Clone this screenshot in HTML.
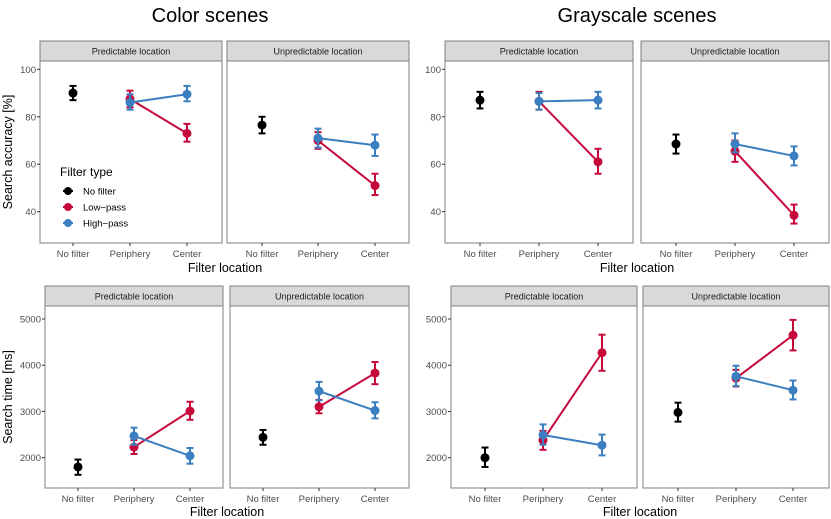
<!DOCTYPE html>
<html><head><meta charset="utf-8">
<style>
body{margin:0;background:#fff;width:831px;height:519px;overflow:hidden}
svg{display:block;font-family:"Liberation Sans",Arial,sans-serif}
</style></head>
<body>
<svg id="chart" width="831" height="519" viewBox="0 0 831 519">
<text x="210" y="22" font-size="20" text-anchor="middle" fill="#000">Color scenes</text>
<text x="637" y="22" font-size="20" text-anchor="middle" fill="#000">Grayscale scenes</text>
<text transform="translate(12,152) rotate(-90)" font-size="12.5" text-anchor="middle">Search accuracy [%]</text>
<text transform="translate(12,397) rotate(-90)" font-size="12.5" text-anchor="middle">Search time [ms]</text>
<text x="225" y="272" font-size="12.5" text-anchor="middle">Filter location</text>
<text x="637" y="272" font-size="12.5" text-anchor="middle">Filter location</text>
<text x="227" y="516" font-size="12.5" text-anchor="middle">Filter location</text>
<text x="640" y="516" font-size="12.5" text-anchor="middle">Filter location</text>
<g id="panels"></g>
<g>
<text x="60" y="176" font-size="12">Filter type</text>
<g><line x1="63" y1="191" x2="73" y2="191" stroke="#000" stroke-width="2"/><circle cx="68" cy="191" r="4" fill="#000"/><text x="83" y="194.5" font-size="9.5">No filter</text></g>
<g><line x1="63" y1="207" x2="73" y2="207" stroke="#c6093b" stroke-width="2"/><circle cx="68" cy="207" r="4" fill="#c6093b"/><text x="83" y="210.5" font-size="9.5">Low−pass</text></g>
<g><line x1="63" y1="223" x2="73" y2="223" stroke="#3b7fc0" stroke-width="2"/><circle cx="68" cy="223" r="4" fill="#3b7fc0"/><text x="83" y="226.5" font-size="9.5">High−pass</text></g>
</g>
</svg>
<script>
const categories = ["No filter","Periphery","Center"];
const accTicks = [40,60,80,100];
const timeTicks = [2000,3000,4000,5000];
// [mean, low, high]; noFilter single; lowPass/highPass at Periphery, Center
const colorAccPredNF = [90,87,93];
const colorAccPredLP = [[87.5,84,91],[73,69.5,77]];
const colorAccPredHP = [[86,83,89.5],[89.5,86.5,93]];
const colorAccUnNF = [76.5,73,80];
const colorAccUnLP = [[70,66.5,73.5],[51,47,56]];
const colorAccUnHP = [[71,67,75],[68,63.5,72.5]];
const grayAccPredNF = [87,83.5,90.5];
const grayAccPredLP = [[86.5,83,90.5],[61,56,66.5]];
const grayAccPredHP = [[86.5,83,90],[87,83.5,90.5]];
const grayAccUnNF = [68.5,64.5,72.5];
const grayAccUnLP = [[65.5,61,70],[38.5,35,43]];
const grayAccUnHP = [[68.5,65,73],[63.5,59.5,67.5]];
const colorTimePredNF = [1800,1630,1960];
const colorTimePredLP = [[2230,2080,2380],[3010,2820,3210]];
const colorTimePredHP = [[2470,2280,2650],[2040,1870,2210]];
const colorTimeUnNF = [2440,2280,2600];
const colorTimeUnLP = [[3100,2960,3250],[3830,3590,4070]];
const colorTimeUnHP = [[3440,3240,3640],[3020,2850,3200]];
const grayTimePredNF = [2000,1800,2220];
const grayTimePredLP = [[2380,2170,2580],[4270,3880,4660]];
const grayTimePredHP = [[2490,2280,2720],[2270,2050,2500]];
const grayTimeUnNF = [2980,2780,3190];
const grayTimeUnLP = [[3720,3540,3900],[4650,4320,4980]];
const grayTimeUnHP = [[3760,3550,3990],[3460,3260,3670]];

const NS="http://www.w3.org/2000/svg";
const root=document.getElementById('panels');
function el(tag,attrs,parent){const e=document.createElementNS(NS,tag);for(const k in attrs)e.setAttribute(k,attrs[k]);(parent||root).appendChild(e);return e;}
const RED="#c6093b",BLUE="#3b7fc0";

function panel(name,x0,x1,sTop,pTop,pBot,v1,y1,v2,y2,xs,title,ticks,showY,nf,lp,hp){
  const g=el('g',{});
  
  
  const yS=v=>y1+(v-v1)*(y2-y1)/(v2-v1);
  const xS=i=>xs[i];
  const strip=el('rect',{x:x0,y:sTop,width:x1-x0,height:pTop-sTop,fill:'#d9d9d9',stroke:'#7f7f7f','stroke-width':1},g);
  
  
  const st=el('text',{x:(x0+x1)/2,y:pTop-6.5,'font-size':9,'text-anchor':'middle',fill:'#1a1a1a'},g);st.textContent=title;
  
  
  el('rect',{x:x0,y:pTop,width:x1-x0,height:pBot-pTop,fill:'#fff',stroke:'#7f7f7f','stroke-width':1},g);
  if(showY){ticks.forEach(t=>{const y=yS(t);el('line',{x1:x0-3,x2:x0,y1:y,y2:y,stroke:'#333'},g);
    const tx=el('text',{x:x0-4,y:y+3.5,'font-size':9.5,'text-anchor':'end',fill:'#4d4d4d'},g);tx.textContent=t;
    
    });}
  categories.forEach((c,i)=>{el('line',{x1:xS(i),x2:xS(i),y1:pBot,y2:pBot+3,stroke:'#333'},g);
    const tx=el('text',{x:xS(i),y:pBot+14,'font-size':9.5,'text-anchor':'middle',fill:'#4d4d4d'},g);tx.textContent=c;
    
    });
  function pt(i,d,col,nm){
    const x=xS(i);
    const eb=el('g',{stroke:col,'stroke-width':2,fill:'none'},g);
    
    
    el('line',{x1:x,x2:x,y1:yS(d[1]),y2:yS(d[2])},eb);
    el('line',{x1:x-3.5,x2:x+3.5,y1:yS(d[1]),y2:yS(d[1])},eb);
    el('line',{x1:x-3.5,x2:x+3.5,y1:yS(d[2]),y2:yS(d[2])},eb);
    const c=el('circle',{cx:x,cy:yS(d[0]),r:4.5,fill:col},g);
    
    
  }
  [[lp,RED,'low-pass'],[hp,BLUE,'high-pass']].forEach(([s,col,nm])=>{
    const ln=el('line',{x1:xS(1),y1:yS(s[0][0]),x2:xS(2),y2:yS(s[1][0]),stroke:col,'stroke-width':2},g);
    
    
  });
  pt(0,nf,'#000','no-filter');
  pt(1,lp[0],RED,'low-pass');pt(2,lp[1],RED,'low-pass');
  pt(1,hp[0],BLUE,'high-pass');pt(2,hp[1],BLUE,'high-pass');
}
// accuracy panels
panel('color-accuracy-predictable',40,222,41,61,243,100,69.3,40,211.7,[73,130,187],'Predictable location',accTicks,true,colorAccPredNF,colorAccPredLP,colorAccPredHP);
panel('color-accuracy-unpredictable',227,409,41,61,243,100,69.3,40,211.7,[262,318,375],'Unpredictable location',accTicks,false,colorAccUnNF,colorAccUnLP,colorAccUnHP);
panel('gray-accuracy-predictable',445,633,41,61,243,100,69.3,40,211.7,[480,539,598],'Predictable location',accTicks,true,grayAccPredNF,grayAccPredLP,grayAccPredHP);
panel('gray-accuracy-unpredictable',641,829,41,61,243,100,69.3,40,211.7,[676,735,794],'Unpredictable location',accTicks,false,grayAccUnNF,grayAccUnLP,grayAccUnHP);
// time panels
panel('color-time-predictable',45,223,286,306,488,5000,319,2000,457.7,[78,134,190],'Predictable location',timeTicks,true,colorTimePredNF,colorTimePredLP,colorTimePredHP);
panel('color-time-unpredictable',230,409,286,306,488,5000,319,2000,457.7,[263,319,375],'Unpredictable location',timeTicks,false,colorTimeUnNF,colorTimeUnLP,colorTimeUnHP);
panel('gray-time-predictable',451,637,286,306,488,5000,319,2000,457.7,[485,543,602],'Predictable location',timeTicks,true,grayTimePredNF,grayTimePredLP,grayTimePredHP);
panel('gray-time-unpredictable',643,829,286,306,488,5000,319,2000,457.7,[678,736,793],'Unpredictable location',timeTicks,false,grayTimeUnNF,grayTimeUnLP,grayTimeUnHP);
</script>
</body></html>
